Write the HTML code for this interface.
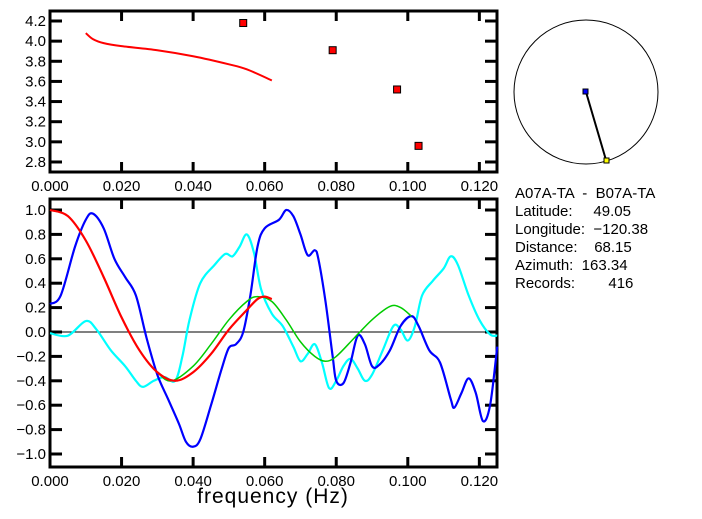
<!DOCTYPE html>
<html><head><meta charset="utf-8"><style>
body{margin:0;background:#fff;}
svg{display:block;font-family:"Liberation Sans",sans-serif;}
</style></head><body>
<svg id="c" width="702" height="519" viewBox="0 0 702 519"></svg>
<script>
const xTicks=[0,0.02,0.04,0.06,0.08,0.1,0.12];
const xTickLabels=["0.000","0.020","0.040","0.060","0.080","0.100","0.120"];
const topYTicks=[2.8,3.0,3.2,3.4,3.6,3.8,4.0,4.2];
const botYTicks=[-1,-0.8,-0.6,-0.4,-0.2,0,0.2,0.4,0.6,0.8,1.0];
const velFreq=[0.010,0.012,0.015,0.020,0.030,0.040,0.050,0.055,0.062];
const velVals=[4.08,4.02,3.98,3.95,3.91,3.85,3.77,3.72,3.61];
const sqFreq=[0.054,0.079,0.097,0.103];
const sqVals=[4.18,3.91,3.52,2.96];
const redFreq=[0,0.005,0.010,0.015,0.020,0.025,0.030,0.035,0.040,0.045,0.050,0.055,0.058,0.060,0.062];
const redVals=[1.0,0.95,0.75,0.45,0.12,-0.15,-0.33,-0.40,-0.33,-0.18,0.02,0.18,0.27,0.29,0.27];
const greenFreq=[0,0.005,0.010,0.015,0.020,0.025,0.030,0.034,0.040,0.045,0.050,0.055,0.058,0.062,0.066,0.070,0.074,0.077,0.080,0.085,0.090,0.095,0.098,0.101];
const greenVals=[1.0,0.95,0.75,0.45,0.12,-0.15,-0.33,-0.40,-0.28,-0.10,0.10,0.25,0.29,0.25,0.10,-0.08,-0.20,-0.24,-0.20,-0.05,0.10,0.21,0.20,0.13];
const blueFreq=[0,0.003,0.007,0.010,0.012,0.015,0.018,0.021,0.024,0.027,0.030,0.033,0.036,0.038,0.040,0.042,0.045,0.048,0.050,0.052,0.054,0.056,0.058,0.060,0.064,0.066,0.068,0.070,0.072,0.074,0.075,0.077,0.079,0.080,0.082,0.084,0.086,0.088,0.090,0.092,0.095,0.098,0.101,0.103,0.106,0.109,0.112,0.113,0.115,0.117,0.119,0.121,0.123,0.125];
const blueVals=[0.23,0.3,0.7,0.92,0.97,0.85,0.6,0.45,0.3,-0.05,-0.35,-0.55,-0.75,-0.9,-0.94,-0.88,-0.6,-0.3,-0.13,-0.1,0.0,0.3,0.7,0.85,0.92,1.0,0.95,0.8,0.63,0.67,0.6,0.25,-0.2,-0.40,-0.42,-0.25,-0.03,-0.1,-0.28,-0.27,-0.15,0.05,0.13,0.05,-0.15,-0.25,-0.55,-0.62,-0.5,-0.38,-0.5,-0.73,-0.6,-0.12];
const cyanFreq=[0,0.005,0.010,0.013,0.017,0.021,0.024,0.026,0.029,0.032,0.035,0.037,0.039,0.042,0.046,0.049,0.051,0.053,0.055,0.057,0.059,0.062,0.065,0.068,0.070,0.072,0.074,0.076,0.078,0.080,0.082,0.084,0.086,0.088,0.090,0.093,0.096,0.098,0.100,0.102,0.104,0.107,0.110,0.112,0.114,0.117,0.120,0.123,0.125];
const cyanVals=[-0.01,-0.03,0.09,0.02,-0.15,-0.28,-0.40,-0.45,-0.40,-0.37,-0.40,-0.20,0.1,0.4,0.55,0.64,0.62,0.7,0.8,0.65,0.35,0.15,0.05,-0.12,-0.24,-0.18,-0.10,-0.25,-0.46,-0.40,-0.28,-0.22,-0.30,-0.40,-0.35,-0.15,0.05,0.02,-0.07,0.05,0.30,0.42,0.52,0.62,0.55,0.30,0.1,-0.02,-0.03];

const NS="http://www.w3.org/2000/svg";
const svg=document.getElementById('c');
function mk(tag,attrs,parent){const e=document.createElementNS(NS,tag);for(const k in attrs)e.setAttribute(k,attrs[k]);(parent||svg).appendChild(e);return e;}
const X0=50,X1=497;
const xs=v=>X0+v*3578;
const ysTop=v=>21+(4.2-v)*100.7;
const ysBot=v=>332-v*122;
function smooth(pts){let d="M"+pts[0][0]+","+pts[0][1];for(let i=0;i<pts.length-1;i++){const p0=pts[i-1]||pts[i],p1=pts[i],p2=pts[i+1],p3=pts[i+2]||p2;d+=" C"+(p1[0]+(p2[0]-p0[0])/6)+","+(p1[1]+(p2[1]-p0[1])/6)+" "+(p2[0]-(p3[0]-p1[0])/6)+","+(p2[1]-(p3[1]-p1[1])/6)+" "+p2[0]+","+p2[1];}return d;}
function frame(y0,y1,ys,yt,fmt,name){
  const g=mk('g',{});
  
  
  const r=mk('rect',{x:X0,y:y0,width:X1-X0,height:y1-y0,fill:'none',stroke:'#000','stroke-width':3},g);
  
  
  xTicks.forEach((t,i)=>{const x=xs(t);
    if(i>0){mk('line',{x1:x,x2:x,y1:y0,y2:y0+10,stroke:'#000','stroke-width':3},g);mk('line',{x1:x,x2:x,y1:y1,y2:y1-10,stroke:'#000','stroke-width':3},g);}
    const tx=mk('text',{x:x,y:y1+19,'font-size':15,'text-anchor':'middle'},g);tx.textContent=xTickLabels[i];
    
    
  });
  yt.forEach(t=>{const y=ys(t);
    mk('line',{x1:X0,x2:X0+12,y1:y,y2:y,stroke:'#000','stroke-width':3},g);
    mk('line',{x1:X1,x2:X1-12,y1:y,y2:y,stroke:'#000','stroke-width':3},g);
    const tx=mk('text',{x:X0-4,y:y+5,'font-size':15,'text-anchor':'end'},g);tx.textContent=fmt(t);
    
    
  });
}
frame(11,172,ysTop,topYTicks,t=>t.toFixed(1),'top-panel');
frame(199,467,ysBot,botYTicks,t=>(t<0?"\u2212":"")+Math.abs(t).toFixed(1),'bottom-panel');
const zl=mk('line',{x1:X0,x2:X1,y1:ysBot(0),y2:ysBot(0),stroke:'#000','stroke-width':1});


function series(f,v,ys,color,w,name){const p=mk('path',{d:smooth(f.map((a,i)=>[xs(a),ys(v[i])])),fill:'none',stroke:color,'stroke-width':w});
  
  }
series(velFreq,velVals,ysTop,'#f00',2,'velocity-curve');
sqFreq.forEach((f,i)=>{const r=mk('rect',{x:xs(f)-3.5,y:ysTop(sqVals[i])-3.5,width:7,height:7,fill:'#f00',stroke:'#000','stroke-width':1});
  
  });
series(cyanFreq,cyanVals,ysBot,'#0ff',2.2,'cyan-series');
series(blueFreq,blueVals,ysBot,'#00f',2.2,'blue-series');
series(greenFreq,greenVals,ysBot,'#0c0',1.5,'green-series');
series(redFreq,redVals,ysBot,'#f00',2.2,'red-series');
const xl=mk('text',{x:273,y:503,'font-size':21,'text-anchor':'middle','letter-spacing':'1'});xl.textContent="frequency (Hz)";


// map
const ci=mk('circle',{cx:586,cy:92,r:72,fill:'none',stroke:'#000','stroke-width':1});


const ln=mk('line',{x1:586,y1:92,x2:606,y2:160,stroke:'#000','stroke-width':2});


const s1=mk('rect',{x:583,y:89,width:5,height:5,fill:'#00f',stroke:'#000','stroke-width':1});


const s2=mk('rect',{x:604,y:158,width:5,height:5,fill:'#ff0',stroke:'#000','stroke-width':1});


const info=["A07A-TA  -  B07A-TA","Latitude:     49.05","Longitude:  \u2212120.38","Distance:    68.15","Azimuth:  163.34","Records:        416"];
info.forEach((t,i)=>{const tx=mk('text',{x:515,y:198+i*18,'font-size':15,'xml:space':'preserve'});tx.style.whiteSpace='pre';tx.textContent=t;
  
  });
</script>
</body></html>
